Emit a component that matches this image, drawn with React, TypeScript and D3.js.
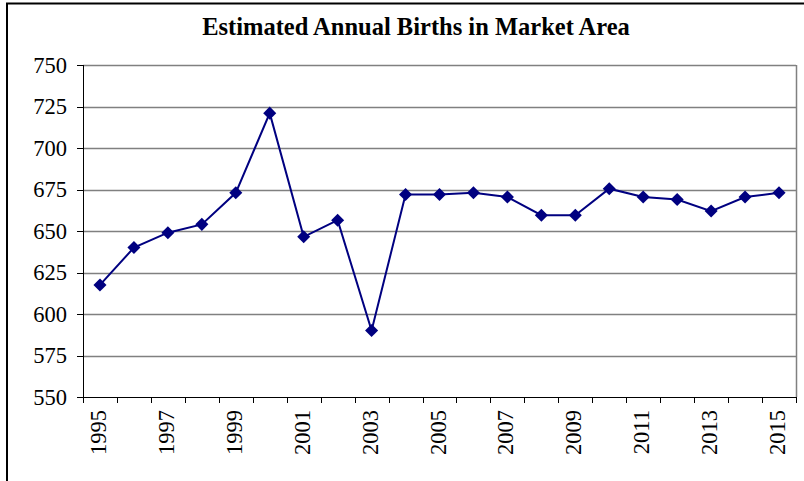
import React, { useRef, useEffect } from "react";
import { select, scaleBand, scaleLinear, line, symbol, symbolSquare } from "d3";

const years = [
  "1995", "1996", "1997", "1998", "1999", "2000", "2001", "2002", "2003", "2004", "2005",
  "2006", "2007", "2008", "2009", "2010", "2011", "2012", "2013", "2014", "2015",
];
const births = [
  617.5, 640, 649, 654, 673, 721, 646.5, 656.5, 590, 672, 672,
  673, 670.5, 659.5, 659.5, 675.5, 670.5, 669, 662, 670.5, 673,
];
const yTicks = [550, 575, 600, 625, 650, 675, 700, 725, 750];
const title = "Estimated Annual Births in Market Area";

const App = () => {
  const chartRef = useRef(null);

  useEffect(() => {
    const width = 804;
    const height = 481;
    const left = 83;
    const right = 796;
    const top = 65;
    const bottom = 397;
    const font = "'Liberation Serif', 'Times New Roman', serif";
    const tickFont = 22.5;

    const svg = select(chartRef.current)
      .append("svg")
      .attr("width", width)
      .attr("height", height)
      .style("position", "absolute")
      .style("left", "0px")
      .style("top", "0px")
      .style("background", "#fff");

    // outer frame (right and bottom edges fall outside the picture)
    svg
      .append("rect")
      .attr("x", 7)
      .attr("y", 3.5)
      .attr("width", 820)
      .attr("height", 520)
      .attr("fill", "none")
      .attr("stroke", "#000")
      .attr("stroke-width", 2);

    svg
      .append("text")
      .attr("x", 416)
      .attr("y", 35)
      .attr("text-anchor", "middle")
      .attr("font-family", font)
      .attr("font-weight", "bold")
      .attr("font-size", 24.5)
      .text(title);

    const xScale = scaleBand().domain(years).range([left, right]).padding(0);
    const yScale = scaleLinear().domain([550, 750]).range([bottom, top]);

    // gridlines
    svg
      .append("g")
      .selectAll("line")
      .data(yTicks.slice(1))
      .enter()
      .append("line")
      .attr("x1", left)
      .attr("x2", right)
      .attr("y1", (d) => Math.round(yScale(d)) + 0.5)
      .attr("y2", (d) => Math.round(yScale(d)) + 0.5)
      .attr("stroke", "#808080")
      .attr("stroke-width", 1.5);

    // right border of plot area
    svg
      .append("line")
      .attr("x1", right + 0.5)
      .attr("x2", right + 0.5)
      .attr("y1", top)
      .attr("y2", bottom)
      .attr("stroke", "#808080")
      .attr("stroke-width", 1.5);

    // y axis
    const yAxis = svg.append("g");
    yAxis
      .append("line")
      .attr("x1", left + 0.5)
      .attr("x2", left + 0.5)
      .attr("y1", top)
      .attr("y2", bottom)
      .attr("stroke", "#000")
      .attr("stroke-width", 1);
    yAxis
      .selectAll("line.tick")
      .data(yTicks)
      .enter()
      .append("line")
      .attr("class", "tick")
      .attr("x1", left - 6)
      .attr("x2", left)
      .attr("y1", (d) => Math.round(yScale(d)) + 0.5)
      .attr("y2", (d) => Math.round(yScale(d)) + 0.5)
      .attr("stroke", "#000");
    yAxis
      .selectAll("text")
      .data(yTicks)
      .enter()
      .append("text")
      .attr("x", left - 16)
      .attr("y", (d) => yScale(d) + 7.5)
      .attr("text-anchor", "end")
      .attr("font-family", font)
      .attr("font-size", tickFont)
      .text((d) => d);

    // x axis
    const xAxis = svg.append("g");
    xAxis
      .append("line")
      .attr("x1", left)
      .attr("x2", right + 1)
      .attr("y1", bottom + 0.5)
      .attr("y2", bottom + 0.5)
      .attr("stroke", "#000");
    const edges = years.map((d) => xScale(d)).concat([right]);
    xAxis
      .selectAll("line.tick")
      .data(edges)
      .enter()
      .append("line")
      .attr("class", "tick")
      .attr("x1", (d) => Math.round(d) + 0.5)
      .attr("x2", (d) => Math.round(d) + 0.5)
      .attr("y1", bottom)
      .attr("y2", bottom + 6)
      .attr("stroke", "#000");
    xAxis
      .selectAll("text")
      .data(years.filter((d, i) => i % 2 === 0))
      .enter()
      .append("text")
      .attr("transform", (d) => {
        const cx = xScale(d) + xScale.bandwidth() / 2 + 6;
        return `translate(${cx}, ${bottom + 13}) rotate(-90)`;
      })
      .attr("text-anchor", "end")
      .attr("font-family", font)
      .attr("font-size", tickFont)
      .text((d) => d);

    // series
    const cx = (i) => xScale(years[i]) + xScale.bandwidth() / 2;
    const path = line()
      .x((d, i) => cx(i))
      .y((d) => yScale(d));
    svg
      .append("path")
      .attr("d", path(births))
      .attr("fill", "none")
      .attr("stroke", "#000080")
      .attr("stroke-width", 2);

    svg
      .append("g")
      .selectAll("path")
      .data(births)
      .enter()
      .append("path")
      .attr("transform", (d, i) => `translate(${cx(i)}, ${yScale(d)}) rotate(45)`)
      .attr("d", symbol().type(symbolSquare).size(85))
      .attr("fill", "#000080");

    return () => {
      svg.remove();
    };
  }, []);

  return <div ref={chartRef} />;
};

export default App;
